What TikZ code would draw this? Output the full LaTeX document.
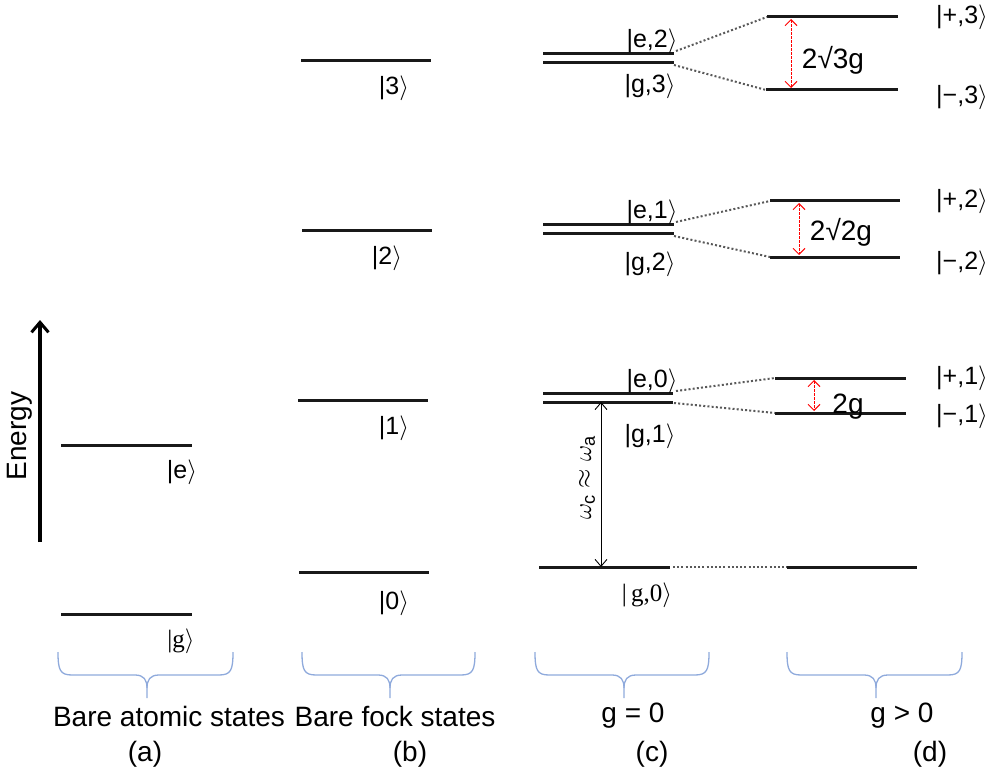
\documentclass[tikz,border=0pt]{standalone}
\usepackage{fontspec}
\setmainfont{Liberation Sans}
\newfontfamily\serifket{Liberation Serif}
\usetikzlibrary{arrows.meta}
\definecolor{bracecol}{RGB}{143,170,220}
\definecolor{levcol}{RGB}{25,25,25}
\newcommand{\myket}[1]{|#1$\rangle$}
\tikzset{
  level/.style={line width=3pt, draw=levcol},
  dotconn/.style={line width=2pt, draw=black!65, dash pattern=on 2pt off 2.2pt},
  splitarrow/.style={draw=red, line width=1pt, dash pattern=on 2.5pt off 1.5pt,
    {Straight Barb[length=6pt,width=12pt]}-{Straight Barb[length=6pt,width=12pt]}},
  ketlabel/.style={inner sep=0pt, font=\fontsize{25}{30}\selectfont},
  bigtext/.style={inner sep=0pt, font=\fontsize{28}{33}\selectfont},
  bracestyle/.style={draw=bracecol, line width=1.3pt},
}
\newcommand{\bracedraw}[3]{% left x, right x, tip x
  \draw[bracestyle] (#1,652) .. controls (#1,670) and (#1+2,675) .. (#1+14,675)
    -- (#3-12,675) .. controls (#3-3,675) and (#3,680) .. (#3,688) -- (#3,698);
  \draw[bracestyle] (#2,652) .. controls (#2,670) and (#2-2,675) .. (#2-14,675)
    -- (#3+12,675) .. controls (#3+3,675) and (#3,680) .. (#3,688);
}
\begin{document}
\begin{tikzpicture}[x=1pt,y=-1pt]
\useasboundingbox (0,0) rectangle (996,778);

% ---------- energy axis
\coordinate (enbot) at (40,542);
\coordinate (entop) at (40,320);
\draw[line width=3.2pt, -{Straight Barb[length=10pt,width=17pt,line width=3pt]}] (enbot) -- (entop);
\node[bigtext, rotate=90] (energy) at (20,436) {Energy};

% ---------- (a) bare atomic states
\coordinate (ae1) at (61,445); \coordinate (ae2) at (192,445);
\coordinate (ag1) at (61,614); \coordinate (ag2) at (192,614);
\draw[level] (ae1) -- (ae2);
\draw[level] (ag1) -- (ag2);
\node[ketlabel] (ke) at (182,472) {\myket{e}};
\node[ketlabel, font=\fontsize{25}{30}\selectfont\serifket] (kg) at (181,641) {\myket{g}};

% ---------- (b) bare fock states
\coordinate (b31) at (301,61);  \coordinate (b32) at (431,61);
\coordinate (b21) at (302,231); \coordinate (b22) at (432,231);
\coordinate (b11) at (298,400); \coordinate (b12) at (428,400);
\coordinate (b01) at (299,572); \coordinate (b02) at (429,572);
\draw[level] (b31) -- (b32);
\draw[level] (b21) -- (b22);
\draw[level] (b11) -- (b12);
\draw[level] (b01) -- (b02);
\node[ketlabel] (k3) at (394,88) {\myket{3}};
\node[ketlabel] (k2) at (387,258) {\myket{2}};
\node[ketlabel] (k1) at (394,428) {\myket{1}};
\node[ketlabel] (k0) at (394,603) {\myket{0}};

% ---------- (c) g = 0
\coordinate (ce21) at (543,54);  \coordinate (ce22) at (674,54);
\coordinate (cg31) at (543,63);  \coordinate (cg32) at (674,63);
\coordinate (ce11) at (543,225); \coordinate (ce12) at (674,225);
\coordinate (cg21) at (543,234); \coordinate (cg22) at (674,234);
\coordinate (ce01) at (543,393); \coordinate (ce02) at (673,393);
\coordinate (cg11) at (543,402); \coordinate (cg12) at (673,402);
\coordinate (cg01) at (539,567); \coordinate (cg02) at (670,567);
\draw[level] (ce21) -- (ce22);
\draw[level] (cg31) -- (cg32);
\draw[level] (ce11) -- (ce12);
\draw[level] (cg21) -- (cg22);
\draw[level] (ce01) -- (ce02);
\draw[level] (cg11) -- (cg12);
\draw[level] (cg01) -- (cg02);
\node[ketlabel] (ke2) at (652,41) {\myket{e,2}};
\node[ketlabel] (kg3) at (650,86) {\myket{g,3}};
\node[ketlabel] (ke1) at (652,212) {\myket{e,1}};
\node[ketlabel] (kg2) at (650,264) {\myket{g,2}};
\node[ketlabel] (ke0) at (652,381) {\myket{e,0}};
\node[ketlabel] (kg1) at (650,436) {\myket{g,1}};
\node[ketlabel, font=\fontsize{25}{30}\selectfont\serifket] (kg0) at (647,595) {|\,g,0$\rangle$};

% resonance arrow
\coordinate (wtop) at (601,402);
\coordinate (wbot) at (601,567);
\draw[line width=0.9pt, {Straight Barb[length=7pt,width=12pt]}-{Straight Barb[length=7pt,width=12pt]}] (wtop) -- (wbot);
\node[inner sep=0pt, rotate=90, font=\fontsize{26}{30}\selectfont] (wlab) at (587,478) {$\omega_{\mathrm{c}}\approx\omega_{\mathrm{a}}$};

% ---------- (d) g > 0
\coordinate (dp31) at (767,17);  \coordinate (dp32) at (898,17);
\coordinate (dm31) at (766,90);  \coordinate (dm32) at (898,90);
\coordinate (dp21) at (770,201); \coordinate (dp22) at (900,201);
\coordinate (dm21) at (770,257); \coordinate (dm22) at (900,257);
\coordinate (dp11) at (775,378); \coordinate (dp12) at (906,378);
\coordinate (dm11) at (775,413); \coordinate (dm12) at (906,413);
\coordinate (dg01) at (787,567); \coordinate (dg02) at (917,567);
\draw[level] (dp31) -- (dp32);
\draw[level] (dm31) -- (dm32);
\draw[level] (dp21) -- (dp22);
\draw[level] (dm21) -- (dm22);
\draw[level] (dp11) -- (dp12);
\draw[level] (dm11) -- (dm12);
\draw[level] (dg01) -- (dg02);
\node[ketlabel] (kp3) at (962,17) {\myket{+,3}};
\node[ketlabel] (km3) at (962,97) {\myket{\textminus,3}};
\node[ketlabel] (kp2) at (962,201) {\myket{+,2}};
\node[ketlabel] (km2) at (962,263) {\myket{\textminus,2}};
\node[ketlabel] (kp1) at (962,378) {\myket{+,1}};
\node[ketlabel] (km1) at (962,416) {\myket{\textminus,1}};

% dotted connectors
\coordinate (s3a) at (676,51);  \coordinate (s3b) at (674,65);
\coordinate (s2a) at (676,222); \coordinate (s2b) at (674,236);
\coordinate (s1a) at (676,391); \coordinate (s1b) at (674,403);
\coordinate (s0a) at (673,567);
\draw[dotconn] (s3a) -- (dp31);
\draw[dotconn] (s3b) -- (dm31);
\draw[dotconn] (s2a) -- (dp21);
\draw[dotconn] (s2b) -- (dm21);
\draw[dotconn] (s1a) -- (dp11);
\draw[dotconn] (s1b) -- (dm11);
\draw[dotconn] (s0a) -- (dg01);

% splitting arrows
\coordinate (r3t) at (791,19);  \coordinate (r3b) at (791,88);
\coordinate (r2t) at (799,203); \coordinate (r2b) at (799,255);
\coordinate (r1t) at (814,380); \coordinate (r1b) at (814,411);
\draw[splitarrow] (r3t) -- (r3b);
\draw[splitarrow] (r2t) -- (r2b);
\draw[splitarrow] (r1t) -- (r1b);
\node[bigtext] (l3) at (833,60) {2√3g};
\node[bigtext] (l2) at (841,232) {2√2g};
\node[bigtext] (l1) at (848,407) {2g};

% ---------- braces and captions
\bracedraw{58}{233}{147}
\bracedraw{302}{475}{390}
\bracedraw{535}{709}{624}
\bracedraw{787}{962}{876}

\node[bigtext] (ta) at (169,716) {Bare atomic states};
\node[bigtext] (tb) at (395,716) {Bare fock states};
\node[bigtext] (tc) at (633,716) {g = 0};
\node[bigtext] (td) at (902,716) {g > 0};
\node[bigtext] (pa) at (145,754) {(a)};
\node[bigtext] (pb) at (410,754) {(b)};
\node[bigtext] (pc) at (652,754) {(c)};
\node[bigtext] (pd) at (930,754) {(d)};
\end{tikzpicture}
\end{document}
